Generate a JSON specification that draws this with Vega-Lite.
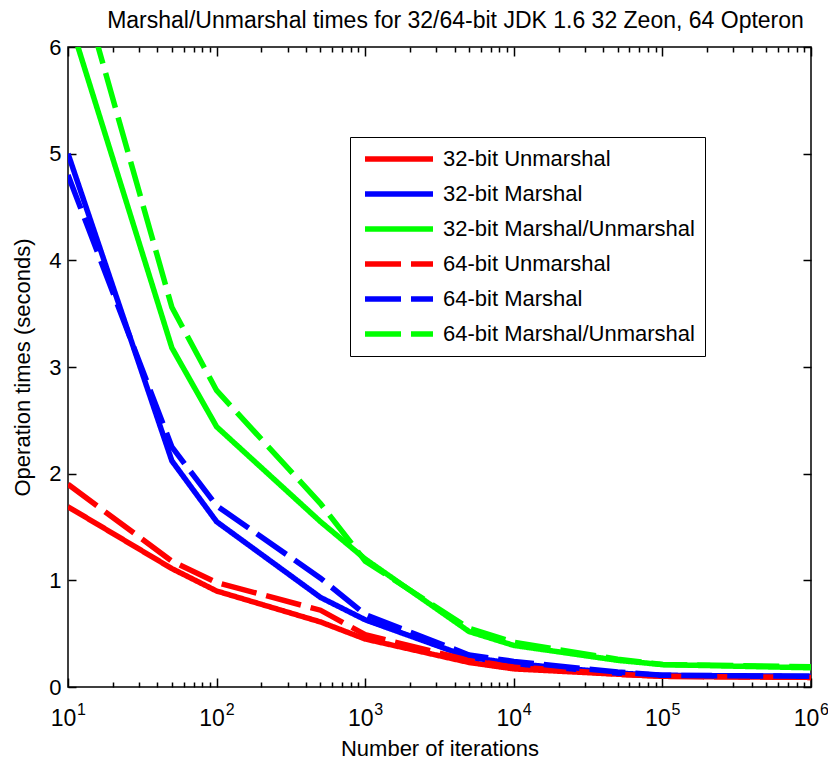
{
  "$schema": "https://vega.github.io/schema/vega-lite/v6.json",
  "width": 743,
  "height": 640,
  "autosize": {"type": "none"},
  "padding": {"left": 68, "top": 47, "right": 17, "bottom": 75},
  "config": {
    "view": {"stroke": "black", "strokeWidth": 1.5},
    "font": "Liberation Sans"
  },
  "data": {
    "values": [
      {"series": "32-bit Unmarshal", "iterations": 10, "time": 1.69},
      {"series": "32-bit Unmarshal", "iterations": 50, "time": 1.11},
      {"series": "32-bit Unmarshal", "iterations": 100, "time": 0.9},
      {"series": "32-bit Unmarshal", "iterations": 500, "time": 0.61},
      {"series": "32-bit Unmarshal", "iterations": 1000, "time": 0.45},
      {"series": "32-bit Unmarshal", "iterations": 5000, "time": 0.23},
      {"series": "32-bit Unmarshal", "iterations": 10000, "time": 0.17},
      {"series": "32-bit Unmarshal", "iterations": 50000, "time": 0.12},
      {"series": "32-bit Unmarshal", "iterations": 100000, "time": 0.1},
      {"series": "32-bit Unmarshal", "iterations": 1000000, "time": 0.09},
      {"series": "32-bit Marshal", "iterations": 10, "time": 5.0},
      {"series": "32-bit Marshal", "iterations": 50, "time": 2.12},
      {"series": "32-bit Marshal", "iterations": 100, "time": 1.55},
      {"series": "32-bit Marshal", "iterations": 500, "time": 0.84},
      {"series": "32-bit Marshal", "iterations": 1000, "time": 0.63},
      {"series": "32-bit Marshal", "iterations": 5000, "time": 0.28},
      {"series": "32-bit Marshal", "iterations": 10000, "time": 0.22},
      {"series": "32-bit Marshal", "iterations": 50000, "time": 0.13},
      {"series": "32-bit Marshal", "iterations": 100000, "time": 0.11},
      {"series": "32-bit Marshal", "iterations": 1000000, "time": 0.1},
      {"series": "32-bit Marshal/Unmarshal", "iterations": 10, "time": 6.3},
      {"series": "32-bit Marshal/Unmarshal", "iterations": 50, "time": 3.18},
      {"series": "32-bit Marshal/Unmarshal", "iterations": 100, "time": 2.44},
      {"series": "32-bit Marshal/Unmarshal", "iterations": 500, "time": 1.55},
      {"series": "32-bit Marshal/Unmarshal", "iterations": 1000, "time": 1.2},
      {"series": "32-bit Marshal/Unmarshal", "iterations": 5000, "time": 0.52},
      {"series": "32-bit Marshal/Unmarshal", "iterations": 10000, "time": 0.39},
      {"series": "32-bit Marshal/Unmarshal", "iterations": 50000, "time": 0.25},
      {"series": "32-bit Marshal/Unmarshal", "iterations": 100000, "time": 0.21},
      {"series": "32-bit Marshal/Unmarshal", "iterations": 1000000, "time": 0.18},
      {"series": "64-bit Unmarshal", "iterations": 10, "time": 1.9},
      {"series": "64-bit Unmarshal", "iterations": 50, "time": 1.18},
      {"series": "64-bit Unmarshal", "iterations": 100, "time": 0.98},
      {"series": "64-bit Unmarshal", "iterations": 500, "time": 0.72},
      {"series": "64-bit Unmarshal", "iterations": 1000, "time": 0.49},
      {"series": "64-bit Unmarshal", "iterations": 5000, "time": 0.25},
      {"series": "64-bit Unmarshal", "iterations": 10000, "time": 0.19},
      {"series": "64-bit Unmarshal", "iterations": 50000, "time": 0.12},
      {"series": "64-bit Unmarshal", "iterations": 100000, "time": 0.1},
      {"series": "64-bit Unmarshal", "iterations": 1000000, "time": 0.09},
      {"series": "64-bit Marshal", "iterations": 10, "time": 4.8},
      {"series": "64-bit Marshal", "iterations": 50, "time": 2.25},
      {"series": "64-bit Marshal", "iterations": 100, "time": 1.7},
      {"series": "64-bit Marshal", "iterations": 500, "time": 1.02},
      {"series": "64-bit Marshal", "iterations": 1000, "time": 0.68},
      {"series": "64-bit Marshal", "iterations": 5000, "time": 0.3},
      {"series": "64-bit Marshal", "iterations": 10000, "time": 0.24},
      {"series": "64-bit Marshal", "iterations": 50000, "time": 0.14},
      {"series": "64-bit Marshal", "iterations": 100000, "time": 0.11},
      {"series": "64-bit Marshal", "iterations": 1000000, "time": 0.1},
      {"series": "64-bit Marshal/Unmarshal", "iterations": 10, "time": 7.0},
      {"series": "64-bit Marshal/Unmarshal", "iterations": 50, "time": 3.56},
      {"series": "64-bit Marshal/Unmarshal", "iterations": 100, "time": 2.78},
      {"series": "64-bit Marshal/Unmarshal", "iterations": 500, "time": 1.72},
      {"series": "64-bit Marshal/Unmarshal", "iterations": 1000, "time": 1.18},
      {"series": "64-bit Marshal/Unmarshal", "iterations": 5000, "time": 0.55},
      {"series": "64-bit Marshal/Unmarshal", "iterations": 10000, "time": 0.42},
      {"series": "64-bit Marshal/Unmarshal", "iterations": 50000, "time": 0.26},
      {"series": "64-bit Marshal/Unmarshal", "iterations": 100000, "time": 0.21},
      {"series": "64-bit Marshal/Unmarshal", "iterations": 1000000, "time": 0.19}
    ]
  },
  "layer": [
    {
      "mark": {"type": "line", "strokeWidth": 5.5, "clip": true},
      "encoding": {
        "x": {
          "field": "iterations", "type": "quantitative",
          "scale": {"type": "log", "domain": [10, 1000000], "nice": false},
          "axis": {
            "orient": "bottom",
            "values": [10, 100, 1000, 10000, 100000, 1000000],
            "labelExpr": "'10'",
            "tickSize": -9, "tickColor": "black", "tickWidth": 1.5,
            "domain": false, "grid": false,
            "labelFontSize": 23, "labelColor": "black", "labelPadding": 29.5, "labelOffset": -5,
            "labelFlush": false,
            "title": "Number of iterations",
            "titleFontSize": 22, "titleFontWeight": "normal", "titleColor": "black", "titlePadding": 8
          }
        },
        "y": {
          "field": "time", "type": "quantitative",
          "scale": {"domain": [0, 6], "nice": false, "zero": true},
          "axis": {
            "orient": "left",
            "values": [0, 1, 2, 3, 4, 5, 6],
            "tickSize": -8, "tickColor": "black", "tickWidth": 1.5,
            "domain": false, "grid": false,
            "labelFontSize": 22, "labelColor": "black", "labelPadding": 15,
            "labelFlush": false,
            "title": "Operation times (seconds)",
            "titleFontSize": 22, "titleFontWeight": "normal", "titleColor": "black", "titlePadding": 14
          }
        },
        "color": {
          "field": "series", "type": "nominal",
          "scale": {
            "domain": ["32-bit Unmarshal", "32-bit Marshal", "32-bit Marshal/Unmarshal", "64-bit Unmarshal", "64-bit Marshal", "64-bit Marshal/Unmarshal"],
            "range": ["#ff0000", "#0000ff", "#00ff00", "#ff0000", "#0000ff", "#00ff00"]
          },
          "legend": {
            "title": null, "orient": "none", "legendX": 282, "legendY": 90,
            "padding": 10, "strokeColor": "black", "fillColor": "white",
            "symbolType": "stroke", "symbolSize": 4624, "symbolStrokeWidth": 5.5, "symbolOffset": 2,
            "labelFontSize": 22, "labelOffset": 7, "labelColor": "black", "labelLimit": 400,
            "clipHeight": 24, "rowPadding": 11
          }
        },
        "strokeDash": {
          "field": "series", "type": "nominal",
          "scale": {
            "domain": ["32-bit Unmarshal", "32-bit Marshal", "32-bit Marshal/Unmarshal", "64-bit Unmarshal", "64-bit Marshal", "64-bit Marshal/Unmarshal"],
            "range": [[1, 0], [1, 0], [1, 0], [36, 10], [36, 10], [36, 10]]
          },
          "legend": {
            "title": null, "orient": "none", "legendX": 282, "legendY": 90,
            "padding": 10, "strokeColor": "black", "fillColor": "white",
            "symbolType": "stroke", "symbolSize": 4624, "symbolStrokeWidth": 5.5, "symbolOffset": 2,
            "labelFontSize": 22, "labelOffset": 7, "labelColor": "black", "labelLimit": 400,
            "clipHeight": 24, "rowPadding": 11
          }
        }
      }
    },
    {
      "mark": {"type": "point", "opacity": 0},
      "encoding": {
        "x": {
          "field": "iterations", "type": "quantitative",
          "axis": {
            "orient": "bottom",
            "values": [20, 30, 40, 50, 60, 70, 80, 90, 200, 300, 400, 500, 600, 700, 800, 900, 2000, 3000, 4000, 5000, 6000, 7000, 8000, 9000, 20000, 30000, 40000, 50000, 60000, 70000, 80000, 90000, 200000, 300000, 400000, 500000, 600000, 700000, 800000, 900000],
            "tickSize": -5, "tickColor": "black", "tickWidth": 1.5,
            "labels": false, "domain": false, "grid": false, "title": null
          }
        },
        "y": {
          "field": "time", "type": "quantitative",
          "axis": {
            "orient": "right",
            "values": [0, 1, 2, 3, 4, 5, 6],
            "tickSize": -8, "tickColor": "black", "tickWidth": 1.5,
            "labels": false, "domain": false, "grid": false, "title": null
          }
        }
      }
    },
    {
      "mark": {"type": "point", "opacity": 0},
      "encoding": {
        "x": {
          "field": "iterations", "type": "quantitative",
          "axis": {
            "orient": "top",
            "values": [10, 100, 1000, 10000, 100000, 1000000],
            "tickSize": -9, "tickColor": "black", "tickWidth": 1.5,
            "labels": false, "domain": false, "grid": false,
            "title": "Marshal/Unmarshal times for 32/64-bit JDK 1.6 32 Zeon, 64 Opteron",
            "titleFontSize": 23, "titleFontWeight": "normal", "titleColor": "black",
            "titleX": 387, "titleY": -20, "titleAlign": "center", "titleBaseline": "alphabetic", "titleAngle": 0
          }
        },
        "y": {"field": "time", "type": "quantitative", "axis": null}
      }
    },
    {
      "mark": {"type": "point", "opacity": 0},
      "encoding": {
        "x": {
          "field": "iterations", "type": "quantitative",
          "axis": {
            "orient": "top",
            "values": [20, 30, 40, 50, 60, 70, 80, 90, 200, 300, 400, 500, 600, 700, 800, 900, 2000, 3000, 4000, 5000, 6000, 7000, 8000, 9000, 20000, 30000, 40000, 50000, 60000, 70000, 80000, 90000, 200000, 300000, 400000, 500000, 600000, 700000, 800000, 900000],
            "tickSize": -5, "tickColor": "black", "tickWidth": 1.5,
            "labels": false, "domain": false, "grid": false, "title": null
          }
        },
        "y": {"field": "time", "type": "quantitative", "axis": null}
      }
    },
    {
      "mark": {"type": "point", "opacity": 0},
      "encoding": {
        "x": {
          "field": "iterations", "type": "quantitative",
          "axis": {
            "orient": "bottom",
            "values": [10, 100, 1000, 10000, 100000, 1000000],
            "labelExpr": "format(round(log(datum.value)/LN10), 'd')",
            "ticks": false, "domain": false, "grid": false, "title": null,
            "labelFontSize": 16, "labelColor": "black", "labelPadding": 14, "labelOffset": 13,
            "labelFlush": false
          }
        },
        "y": {"field": "time", "type": "quantitative", "axis": null}
      }
    }
  ],
  "resolve": {"axis": {"x": "independent", "y": "independent"}}
}
